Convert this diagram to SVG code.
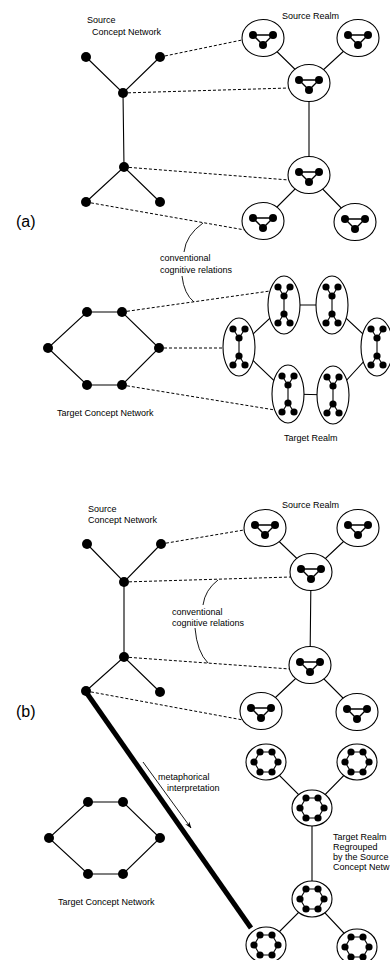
<svg xmlns="http://www.w3.org/2000/svg" xmlns:xlink="http://www.w3.org/1999/xlink" width="390" height="960" viewBox="0 0 390 960">
<style>
.ln{stroke:#000;stroke-width:1.1;fill:none}
.thin{stroke:#000;stroke-width:0.9;fill:none}
.dash{stroke:#000;stroke-width:1;stroke-dasharray:3 2;fill:none}
.thick{stroke:#000;stroke-width:5;fill:none}
.ring{fill:#fff;stroke:#000;stroke-width:1.1}
.dot{fill:#000}
.m{stroke:#000;stroke-width:1.4;fill:none}
text{font-family:"Liberation Sans",Arial,sans-serif;font-size:9px;fill:#000}
.lab{font-size:16px}
</style>
<defs>
<marker id="ah" viewBox="0 0 10 10" refX="9" refY="5" markerWidth="7" markerHeight="7" orient="auto" markerUnits="userSpaceOnUse">
<path d="M0,1.5 L10,5 L0,8.5 L3,5 Z" fill="#000"/>
</marker>
<g id="tri">
<path class="m" d="M-10,-3 L10,-3 L0,7 Z"/>
<circle class="dot" cx="-10" cy="-3" r="4"/><circle class="dot" cx="10" cy="-3" r="4"/><circle class="dot" cx="0" cy="7" r="4"/>
</g>
<g id="tree">
<path class="ln" d="M-6,-18 L0,-9 L6,-18 M0,-9 L0,9 M-6,18 L0,9 L6,18"/>
<circle class="dot" cx="-6" cy="-18" r="3.6"/><circle class="dot" cx="6" cy="-18" r="3.6"/>
<circle class="dot" cx="0" cy="-9" r="3.6"/><circle class="dot" cx="0" cy="9" r="3.6"/>
<circle class="dot" cx="-6" cy="18" r="3.6"/><circle class="dot" cx="6" cy="18" r="3.6"/>
</g>
<g id="hex">
<path class="ln" d="M-12,0 L-6,-10 L6,-10 L12,0 L6,10 L-6,10 Z"/>
<circle class="dot" cx="-12" cy="0" r="3.6"/><circle class="dot" cx="-6" cy="-10" r="3.6"/><circle class="dot" cx="6" cy="-10" r="3.6"/>
<circle class="dot" cx="12" cy="0" r="3.6"/><circle class="dot" cx="6" cy="10" r="3.6"/><circle class="dot" cx="-6" cy="10" r="3.6"/>
</g>
</defs>

<g id="connectors">
<path class="ln" d="M86,57 L123,93 L160,57 M123,93 L124,167 M86,202 L124,167 L160,202"/>
<path class="ln" d="M263,38 L309,83 L358,38 M309,83 L309,175 M263,221 L309,175 L355,222"/>
<path class="dash" d="M160,57 L242,40 M123,93 L289,88 M124,167 L289,180 M86,202 L245,230"/>
<path class="ln" d="M87,312 L122,312 L159,348 L122,385 L87,385 L48,348 Z"/>
<path class="ln" d="M284,305 L332,305 L377,347 L333,395 L288,394 L239,347 Z"/>
<path class="dash" d="M122,312 L270,291 M159,348 L223,348 M122,385 L275,410"/>
<path class="thin" d="M203,223 Q186,235 184,252 M182,276 Q184,294 194,302"/>
<path class="ln" d="M87,544 L124,582 L161,544 M124,582 L124,657 M86,691 L124,657 L160,692"/>
<path class="ln" d="M265,528 L311,572 L358,528 M311,572 L310,665 M261,711 L310,665 L357,712"/>
<path class="dash" d="M161,544 L244,530 M124,582 L291,577 M124,657 L290,669 M86,691 L243,720"/>
<path class="thin" d="M218,580 Q205,590 203,605 M195,628 Q197,652 208,663"/>
<path class="ln" d="M88,802 L123,802 L160,838 L123,874 L88,874 L49,838 Z"/>
<path class="ln" d="M266,762 L312,808 L357,762 M312,808 L312,899 M266,945 L312,899 L357,947"/>
<path class="thick" d="M86,692 L251,928"/>
<path class="thin" d="M143,762 L191,828" marker-end="url(#ah)"/>
</g>

<g id="sa1"><circle class="dot" cx="86" cy="57" r="5"/></g>
<g id="sa2"><circle class="dot" cx="160" cy="57" r="5"/></g>
<g id="sa3"><circle class="dot" cx="123" cy="93" r="5"/></g>
<g id="sa4"><circle class="dot" cx="124" cy="167" r="5"/></g>
<g id="sa5"><circle class="dot" cx="86" cy="202" r="5"/></g>
<g id="sa6"><circle class="dot" cx="160" cy="202" r="5"/></g>

<g id="ra1"><ellipse class="ring" cx="263" cy="38" rx="21" ry="18.5"/><use xlink:href="#tri" href="#tri" transform="translate(263,38)"/></g>
<g id="ra2"><ellipse class="ring" cx="358" cy="38" rx="21" ry="18.5"/><use xlink:href="#tri" href="#tri" transform="translate(358,38)"/></g>
<g id="ra3"><ellipse class="ring" cx="309" cy="83" rx="21" ry="18.5"/><use xlink:href="#tri" href="#tri" transform="translate(309,83)"/></g>
<g id="ra4"><ellipse class="ring" cx="309" cy="175" rx="21" ry="18.5"/><use xlink:href="#tri" href="#tri" transform="translate(309,175)"/></g>
<g id="ra5"><ellipse class="ring" cx="263" cy="221" rx="21" ry="18.5"/><use xlink:href="#tri" href="#tri" transform="translate(263,221)"/></g>
<g id="ra6"><ellipse class="ring" cx="355" cy="222" rx="21" ry="18.5"/><use xlink:href="#tri" href="#tri" transform="translate(355,222)"/></g>

<g id="ta1"><circle class="dot" cx="87" cy="312" r="5"/></g>
<g id="ta2"><circle class="dot" cx="122" cy="312" r="5"/></g>
<g id="ta3"><circle class="dot" cx="159" cy="348" r="5"/></g>
<g id="ta4"><circle class="dot" cx="122" cy="385" r="5"/></g>
<g id="ta5"><circle class="dot" cx="87" cy="385" r="5"/></g>
<g id="ta6"><circle class="dot" cx="48" cy="348" r="5"/></g>

<g id="ea1"><ellipse class="ring" cx="284" cy="305" rx="16" ry="29"/><use xlink:href="#tree" href="#tree" transform="translate(284,305)"/></g>
<g id="ea2"><ellipse class="ring" cx="332" cy="305" rx="16" ry="29"/><use xlink:href="#tree" href="#tree" transform="translate(332,305)"/></g>
<g id="ea3"><ellipse class="ring" cx="239" cy="347" rx="16" ry="29"/><use xlink:href="#tree" href="#tree" transform="translate(239,347)"/></g>
<g id="ea4"><ellipse class="ring" cx="377" cy="347" rx="16" ry="29"/><use xlink:href="#tree" href="#tree" transform="translate(377,347)"/></g>
<g id="ea5"><ellipse class="ring" cx="288" cy="394" rx="16" ry="29"/><use xlink:href="#tree" href="#tree" transform="translate(288,394)"/></g>
<g id="ea6"><ellipse class="ring" cx="333" cy="395" rx="16" ry="29"/><use xlink:href="#tree" href="#tree" transform="translate(333,395)"/></g>

<g id="sb1"><circle class="dot" cx="87" cy="544" r="5"/></g>
<g id="sb2"><circle class="dot" cx="161" cy="544" r="5"/></g>
<g id="sb3"><circle class="dot" cx="124" cy="582" r="5"/></g>
<g id="sb4"><circle class="dot" cx="124" cy="657" r="5"/></g>
<g id="sb5"><circle class="dot" cx="86" cy="691" r="5"/></g>
<g id="sb6"><circle class="dot" cx="160" cy="692" r="5"/></g>

<g id="rb1"><ellipse class="ring" cx="265" cy="528" rx="21" ry="18.5"/><use xlink:href="#tri" href="#tri" transform="translate(265,528)"/></g>
<g id="rb2"><ellipse class="ring" cx="358" cy="528" rx="21" ry="18.5"/><use xlink:href="#tri" href="#tri" transform="translate(358,528)"/></g>
<g id="rb3"><ellipse class="ring" cx="311" cy="572" rx="21" ry="18.5"/><use xlink:href="#tri" href="#tri" transform="translate(311,572)"/></g>
<g id="rb4"><ellipse class="ring" cx="310" cy="665" rx="21" ry="18.5"/><use xlink:href="#tri" href="#tri" transform="translate(310,665)"/></g>
<g id="rb5"><ellipse class="ring" cx="261" cy="711" rx="21" ry="18.5"/><use xlink:href="#tri" href="#tri" transform="translate(261,711)"/></g>
<g id="rb6"><ellipse class="ring" cx="357" cy="712" rx="21" ry="18.5"/><use xlink:href="#tri" href="#tri" transform="translate(357,712)"/></g>

<g id="tb1"><circle class="dot" cx="88" cy="802" r="5"/></g>
<g id="tb2"><circle class="dot" cx="123" cy="802" r="5"/></g>
<g id="tb3"><circle class="dot" cx="160" cy="838" r="5"/></g>
<g id="tb4"><circle class="dot" cx="123" cy="874" r="5"/></g>
<g id="tb5"><circle class="dot" cx="88" cy="874" r="5"/></g>
<g id="tb6"><circle class="dot" cx="49" cy="838" r="5"/></g>

<g id="hb1"><ellipse class="ring" cx="266" cy="762" rx="20" ry="18"/><use xlink:href="#hex" href="#hex" transform="translate(266,762)"/></g>
<g id="hb2"><ellipse class="ring" cx="357" cy="762" rx="20" ry="18"/><use xlink:href="#hex" href="#hex" transform="translate(357,762)"/></g>
<g id="hb3"><ellipse class="ring" cx="312" cy="808" rx="20" ry="18"/><use xlink:href="#hex" href="#hex" transform="translate(312,808)"/></g>
<g id="hb4"><ellipse class="ring" cx="312" cy="899" rx="20" ry="18"/><use xlink:href="#hex" href="#hex" transform="translate(312,899)"/></g>
<g id="hb5"><ellipse class="ring" cx="266" cy="945" rx="20" ry="18"/><use xlink:href="#hex" href="#hex" transform="translate(266,945)"/></g>
<g id="hb6"><ellipse class="ring" cx="357" cy="947" rx="20" ry="18"/><use xlink:href="#hex" href="#hex" transform="translate(357,947)"/></g>

<g id="labels">
<text x="87" y="23">Source</text>
<text x="92" y="35">Concept Network</text>
<text x="282" y="19">Source Realm</text>
<text class="lab" x="16" y="227">(a)</text>
<text x="160" y="261">conventional</text>
<text x="160" y="273">cognitive relations</text>
<text x="57" y="416">Target Concept Network</text>
<text x="284" y="441">Target Realm</text>

<text x="88" y="512">Source</text>
<text x="88" y="523">Concept Network</text>
<text x="282" y="508">Source Realm</text>
<text class="lab" x="16" y="717">(b)</text>
<text x="172" y="615">conventional</text>
<text x="172" y="626">cognitive relations</text>
<text x="158" y="780">metaphorical</text>
<text x="167" y="791">interpretation</text>
<text x="58" y="905">Target Concept Network</text>
<text x="333" y="840">Target Realm</text>
<text x="333" y="850">Regrouped</text>
<text x="333" y="860">by the Source</text>
<text x="333" y="870">Concept Netw</text>
</g>
</svg>
